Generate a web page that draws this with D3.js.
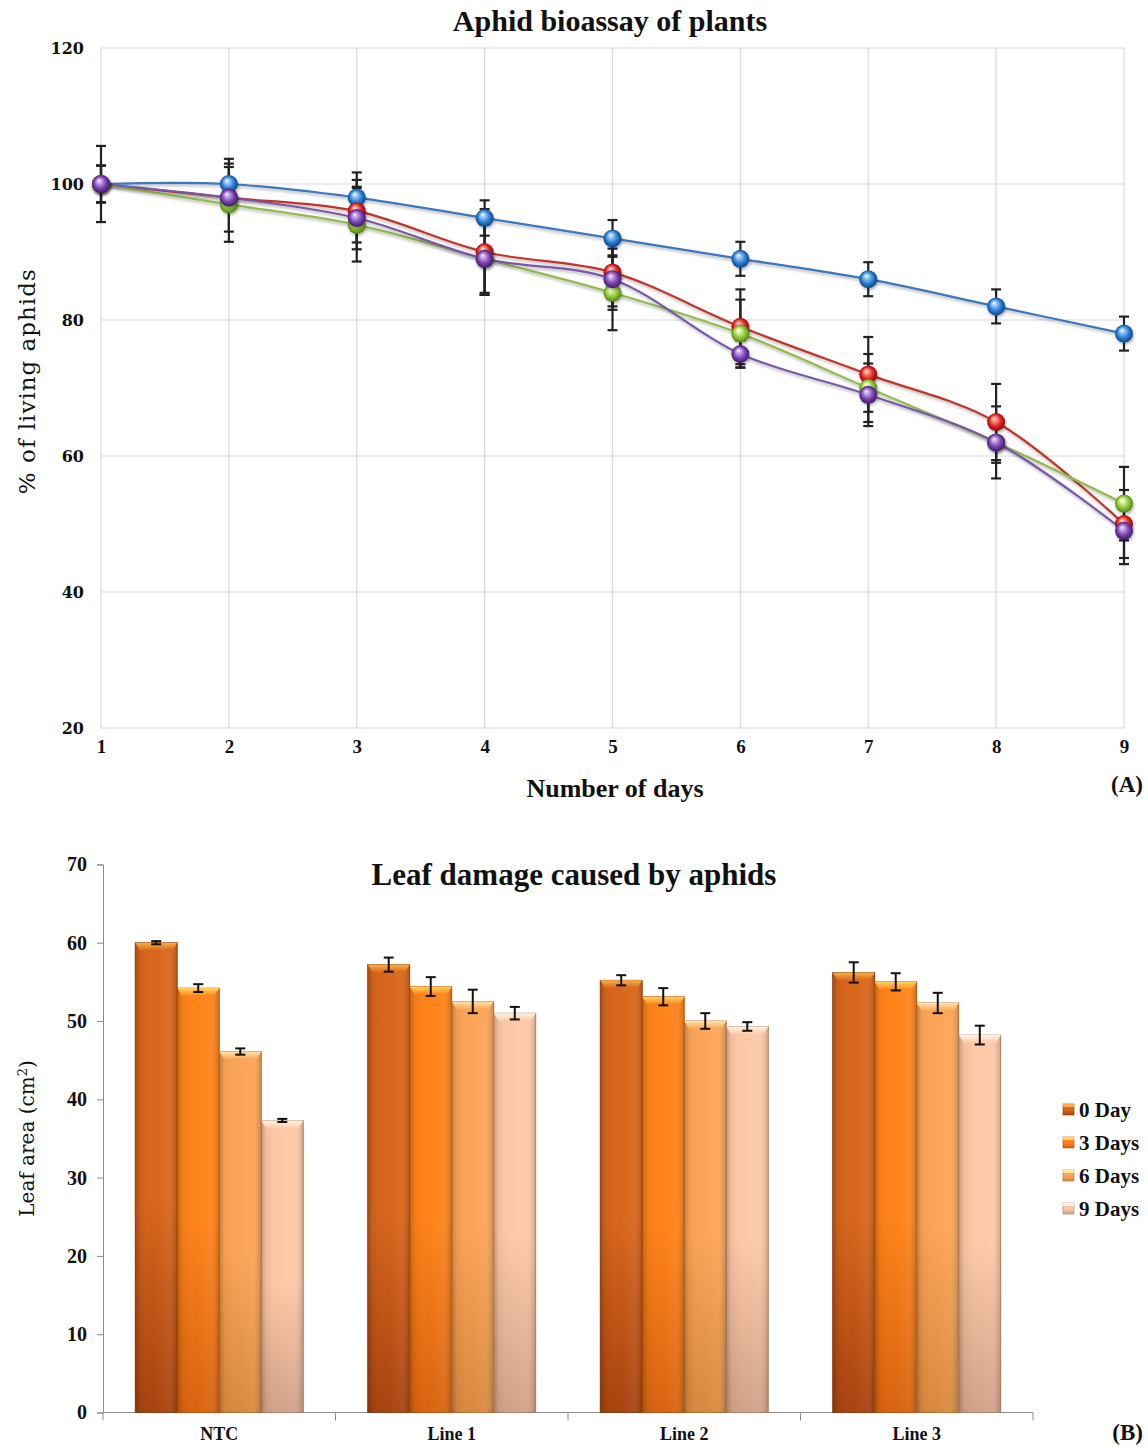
<!DOCTYPE html>
<html>
<head>
<meta charset="utf-8">
<script src="https://cdn.jsdelivr.net/npm/d3@7"></script>
<style>
  body { margin: 0; background: #fff; }
  svg text { font-family: "Liberation Serif", "Times New Roman", serif; }
</style>
</head>
<body>
<div id="chart"></div>
<script>
// ---- data: panel A (aphid bioassay) ----
var days = [1, 2, 3, 4, 5, 6, 7, 8, 9];
var blueVals   = [100, 100, 98, 95, 92, 89, 86, 82, 78];
var redVals    = [100, 98, 96, 90, 87, 79, 72, 65, 50];
var greenVals  = [100, 97, 94, 89, 84, 78, 70, 62, 53];
var purpleVals = [100, 98, 95, 89, 86, 75, 69, 62, 49];
var blueErr    = [5.6, 3.7, 3.7, 2.6, 2.7, 2.5, 2.5, 2.5, 2.5];
var redErr     = [2.7, 1.0, 4.6, 6.3, 5.0, 5.5, 5.5, 5.6, 5.0];
var greenErr   = [2.7, 5.5, 5.4, 5.0, 5.5, 5.0, 5.0, 3.0, 5.4];
var purpleErr  = [2.7, 5.0, 4.6, 5.3, 4.5, 2.0, 4.6, 5.3, 4.9];
var topYTicks  = [20, 40, 60, 80, 100, 120];

// ---- data: panel B (leaf damage) ----
var lineCats = ["NTC", "Line 1", "Line 2", "Line 3"];
var dayGroups = ["0 Day", "3 Days", "6 Days", "9 Days"];
var day0Vals = [60.0, 57.2, 55.2, 56.2];
var day3Vals = [54.2, 54.4, 53.1, 55.0];
var day6Vals = [46.1, 52.5, 50.0, 52.3];
var day9Vals = [37.3, 51.0, 49.3, 48.2];
var day0Err  = [0.2, 0.9, 0.65, 1.3];
var day3Err  = [0.5, 1.2, 1.1, 1.1];
var day6Err  = [0.4, 1.5, 1.0, 1.3];
var day9Err  = [0.2, 0.8, 0.55, 1.2];
var bottomYTicks = [0, 10, 20, 30, 40, 50, 60, 70];

var svg = d3.select("#chart").append("svg")
  .attr("width", 1148)
  .attr("height", 1447);

var defs = svg.append("defs");

// drop shadow for lines / markers
var shadow = defs.append("filter").attr("id", "shadow")
  .attr("x", "-20%").attr("y", "-20%").attr("width", "140%").attr("height", "160%");
shadow.append("feDropShadow")
  .attr("dx", 1).attr("dy", 2).attr("stdDeviation", 1.5)
  .attr("flood-color", "#000").attr("flood-opacity", 0.3);

// =================== Panel A ===================
var xTop = d3.scaleLinear().domain([1, 9]).range([101, 1124]);
var yTop = d3.scaleLinear().domain([20, 120]).range([728, 48]);

var topG = svg.append("g");

// gridlines
topG.append("g").selectAll("line").data(topYTicks).enter().append("line")
  .attr("x1", xTop(1)).attr("x2", xTop(9))
  .attr("y1", d => yTop(d)).attr("y2", d => yTop(d))
  .attr("stroke", "#d9d9d9").attr("stroke-width", 1.2);
topG.append("g").selectAll("line").data(days).enter().append("line")
  .attr("x1", d => xTop(d)).attr("x2", d => xTop(d))
  .attr("y1", yTop(120)).attr("y2", yTop(20))
  .attr("stroke", "#d9d9d9").attr("stroke-width", 1.2);

// axes (labels only)
var topLeft = topG.append("g")
  .attr("transform", `translate(${xTop(1)},0)`)
  .call(d3.axisLeft(yTop).tickValues(topYTicks).tickSize(0).tickPadding(17));
topLeft.select(".domain").remove();
topLeft.selectAll("text")
  .style("font-family", "'DejaVu Serif', serif")
  .style("font-weight", "bold").style("font-size", "16px").attr("fill", "#111");

var topBottom = topG.append("g")
  .attr("transform", `translate(0,${yTop(20)})`)
  .call(d3.axisBottom(xTop).tickValues(days).tickFormat(d3.format("d")).tickSize(0).tickPadding(12));
topBottom.select(".domain").remove();
topBottom.selectAll("text")
  .style("font-weight", "bold").style("font-size", "19px").attr("fill", "#111");

var series = [
  { vals: blueVals,   err: blueErr,   line: "#3d78bd", hi: "#a9d4ff", mid: "#2a7dd2", dark: "#0b3a78" },
  { vals: redVals,    err: redErr,    line: "#c0352c", hi: "#ffa090", mid: "#e02222", dark: "#780808" },
  { vals: greenVals,  err: greenErr,  line: "#93bb4c", hi: "#e6f8aa", mid: "#8cc43a", dark: "#477410" },
  { vals: purpleVals, err: purpleErr, line: "#7658a6", hi: "#d0b0f0", mid: "#7a40b0", dark: "#361458" }
];

series.forEach(function(s, i) {
  var g = defs.append("radialGradient").attr("id", "ball" + i)
    .attr("cx", "50%").attr("cy", "50%").attr("r", "55%")
    .attr("fx", "38%").attr("fy", "30%");
  g.append("stop").attr("offset", "0%").attr("stop-color", "#ffffff");
  g.append("stop").attr("offset", "18%").attr("stop-color", s.hi);
  g.append("stop").attr("offset", "60%").attr("stop-color", s.mid);
  g.append("stop").attr("offset", "100%").attr("stop-color", s.dark);
});

// error bars
var errG = topG.append("g");
series.forEach(function(s) {
  days.forEach(function(d, j) {
    var x = xTop(d), y0 = yTop(s.vals[j] - s.err[j]), y1 = yTop(s.vals[j] + s.err[j]);
    errG.append("line").attr("x1", x).attr("x2", x).attr("y1", y0).attr("y2", y1)
      .attr("stroke", "#222").attr("stroke-width", 2.2);
    [y0, y1].forEach(function(yy) {
      errG.append("line").attr("x1", x - 5).attr("x2", x + 5).attr("y1", yy).attr("y2", yy)
        .attr("stroke", "#222").attr("stroke-width", 2.2);
    });
  });
});

// lines
var lineGen = d3.line()
  .x((d, j) => xTop(days[j]))
  .y(d => yTop(d))
  .curve(d3.curveCatmullRom.alpha(0.5));

series.forEach(function(s) {
  topG.append("path")
    .datum(s.vals)
    .attr("d", lineGen)
    .attr("fill", "none")
    .attr("stroke", s.line)
    .attr("stroke-width", 2.2)
    .attr("filter", "url(#shadow)");
});

// markers
series.forEach(function(s, i) {
  topG.append("g").selectAll("circle").data(s.vals).enter().append("circle")
    .attr("cx", (d, j) => xTop(days[j]))
    .attr("cy", d => yTop(d))
    .attr("r", 9)
    .attr("fill", `url(#ball${i})`)
    .attr("filter", "url(#shadow)");
});

// titles
svg.append("text").attr("x", 610).attr("y", 31).attr("text-anchor", "middle")
  .style("font-weight", "bold").style("font-size", "30px").attr("fill", "#111")
  .text("Aphid bioassay of plants");

svg.append("text")
  .attr("transform", `translate(35,${yTop(71)}) rotate(-90)`)
  .attr("text-anchor", "middle")
  .style("font-family", "'DejaVu Serif', serif")
  .style("font-size", "23px").style("letter-spacing", "1px").attr("fill", "#111")
  .text("% of living aphids");

svg.append("text").attr("x", 615).attr("y", 797).attr("text-anchor", "middle")
  .style("font-weight", "bold").style("font-size", "26px").attr("fill", "#111")
  .text("Number of  days");

svg.append("text").attr("x", 1143).attr("y", 792).attr("text-anchor", "end")
  .style("font-weight", "bold").style("font-size", "23px").attr("fill", "#111")
  .text("(A)");

// =================== Panel B ===================
var xB = d3.scaleBand().domain(lineCats).range([103, 1033])
  .paddingInner(0.277).paddingOuter(0.1385);
var xSub = d3.scaleBand().domain(dayGroups).range([0, xB.bandwidth()]);
var yB = d3.scaleLinear().domain([0, 70]).range([1412.5, 864.4]);

var barSeries = [
  { name: "0 Day",  vals: day0Vals, err: day0Err, top: "#d8651a", bot: "#a8420e", cap: "#f7b04a", edge: "#8a3608" },
  { name: "3 Days", vals: day3Vals, err: day3Err, top: "#ff8218", bot: "#d8620f", cap: "#ffd460", edge: "#b04f08" },
  { name: "6 Days", vals: day6Vals, err: day6Err, top: "#fca456", bot: "#d8883e", cap: "#ffe4a8", edge: "#b06a28" },
  { name: "9 Days", vals: day9Vals, err: day9Err, top: "#fdc8a6", bot: "#d2a088", cap: "#fff3e4", edge: "#a88068" }
];

barSeries.forEach(function(s, i) {
  var v = defs.append("linearGradient").attr("id", "barV" + i)
    .attr("x1", 0).attr("x2", 0).attr("y1", 0).attr("y2", 1);
  v.append("stop").attr("offset", "0%").attr("stop-color", s.top);
  v.append("stop").attr("offset", "55%").attr("stop-color", s.top);
  v.append("stop").attr("offset", "100%").attr("stop-color", s.bot);
  var c = defs.append("linearGradient").attr("id", "cap" + i)
    .attr("x1", 0).attr("x2", 0).attr("y1", 0).attr("y2", 1);
  c.append("stop").attr("offset", "0%").attr("stop-color", s.cap);
  c.append("stop").attr("offset", "100%").attr("stop-color", s.top);
});

// cylinder-ish horizontal shading overlay
var shade = defs.append("linearGradient").attr("id", "barShade")
  .attr("x1", 0).attr("x2", 1).attr("y1", 0).attr("y2", 0);
shade.append("stop").attr("offset", "0%").attr("stop-color", "#000").attr("stop-opacity", 0.22);
shade.append("stop").attr("offset", "12%").attr("stop-color", "#000").attr("stop-opacity", 0.05);
shade.append("stop").attr("offset", "45%").attr("stop-color", "#fff").attr("stop-opacity", 0.0);
shade.append("stop").attr("offset", "80%").attr("stop-color", "#fff").attr("stop-opacity", 0.06);
shade.append("stop").attr("offset", "100%").attr("stop-color", "#000").attr("stop-opacity", 0.18);

var botG = svg.append("g");

// y axis
var bLeft = botG.append("g")
  .attr("transform", `translate(${103},0)`)
  .call(d3.axisLeft(yB).tickValues(bottomYTicks).tickSize(6).tickPadding(10));
bLeft.select(".domain").attr("stroke", "#8c8c8c");
bLeft.selectAll(".tick line").attr("stroke", "#8c8c8c");
bLeft.selectAll("text")
  .style("font-weight", "bold").style("font-size", "20px").attr("fill", "#111");

// x axis with boundary ticks
var bBottom = botG.append("g")
  .attr("transform", `translate(0,${yB(0)})`)
  .call(d3.axisBottom(xB).tickSize(0).tickPadding(15));
bBottom.select(".domain").attr("stroke", "#8c8c8c").attr("d", `M103,0H1033`);
bBottom.selectAll("text")
  .style("font-weight", "bold").style("font-size", "18px").attr("fill", "#111");
var half = (xB.step() - xB.bandwidth()) / 2;
var bounds = lineCats.map(c => xB(c) - half).concat([xB(lineCats[3]) + xB.bandwidth() + half]);
bBottom.selectAll("line.bound").data(bounds).enter().append("line")
  .attr("class", "bound")
  .attr("x1", d => d).attr("x2", d => d).attr("y1", 0).attr("y2", 8)
  .attr("stroke", "#8c8c8c");

// bars
barSeries.forEach(function(s, i) {
  var g = botG.append("g");
  lineCats.forEach(function(c, j) {
    var x = xB(c) + xSub(s.name), w = xSub.bandwidth();
    var y = yB(s.vals[j]), h = yB(0) - y;
    g.append("rect").attr("x", x).attr("y", y).attr("width", w).attr("height", h)
      .attr("fill", `url(#barV${i})`).attr("stroke", s.edge).attr("stroke-width", 0.8);
    g.append("rect").attr("x", x).attr("y", y).attr("width", w).attr("height", h)
      .attr("fill", "url(#barShade)");
    // bevelled top
    g.append("path")
      .attr("d", `M${x},${y}H${x + w}L${x + w - 5},${y + 8}H${x + 5}Z`)
      .attr("fill", `url(#cap${i})`);
  });
});

// bar error bars
barSeries.forEach(function(s) {
  lineCats.forEach(function(c, j) {
    var x = xB(c) + xSub(s.name) + xSub.bandwidth() / 2;
    var y0 = yB(s.vals[j] - s.err[j]), y1 = yB(s.vals[j] + s.err[j]);
    botG.append("line").attr("x1", x).attr("x2", x).attr("y1", y0).attr("y2", y1)
      .attr("stroke", "#111").attr("stroke-width", 2);
    [y0, y1].forEach(function(yy) {
      botG.append("line").attr("x1", x - 5).attr("x2", x + 5).attr("y1", yy).attr("y2", yy)
        .attr("stroke", "#111").attr("stroke-width", 2);
    });
  });
});

// legend
var legend = botG.append("g");
barSeries.forEach(function(s, i) {
  var ly = 1110 + i * 33;
  legend.append("rect").attr("x", 1063).attr("y", ly - 6).attr("width", 11).attr("height", 11)
    .attr("fill", `url(#barV${i})`).attr("stroke", s.edge).attr("stroke-width", 0.6);
  legend.append("rect").attr("x", 1063).attr("y", ly - 6).attr("width", 11).attr("height", 3)
    .attr("fill", s.cap);
  legend.append("text").attr("x", 1079).attr("y", ly + 7)
    .style("font-weight", "bold").style("font-size", "21px").attr("fill", "#111")
    .text(s.name);
});

svg.append("text").attr("x", 574).attr("y", 885).attr("text-anchor", "middle")
  .style("font-weight", "bold").style("font-size", "31px").attr("fill", "#111")
  .text("Leaf damage caused by aphids");

var yl = svg.append("text")
  .attr("transform", `translate(34,${yB(35)}) rotate(-90)`)
  .attr("text-anchor", "middle")
  .style("font-family", "'DejaVu Serif', serif")
  .style("font-size", "20px").attr("fill", "#111");
yl.append("tspan").text("Leaf area (cm");
yl.append("tspan").attr("baseline-shift", "super").style("font-size", "13px").text("2");
yl.append("tspan").text(")");

svg.append("text").attr("x", 1143).attr("y", 1440).attr("text-anchor", "end")
  .style("font-weight", "bold").style("font-size", "23px").attr("fill", "#111")
  .text("(B)");
</script>
</body>
</html>
